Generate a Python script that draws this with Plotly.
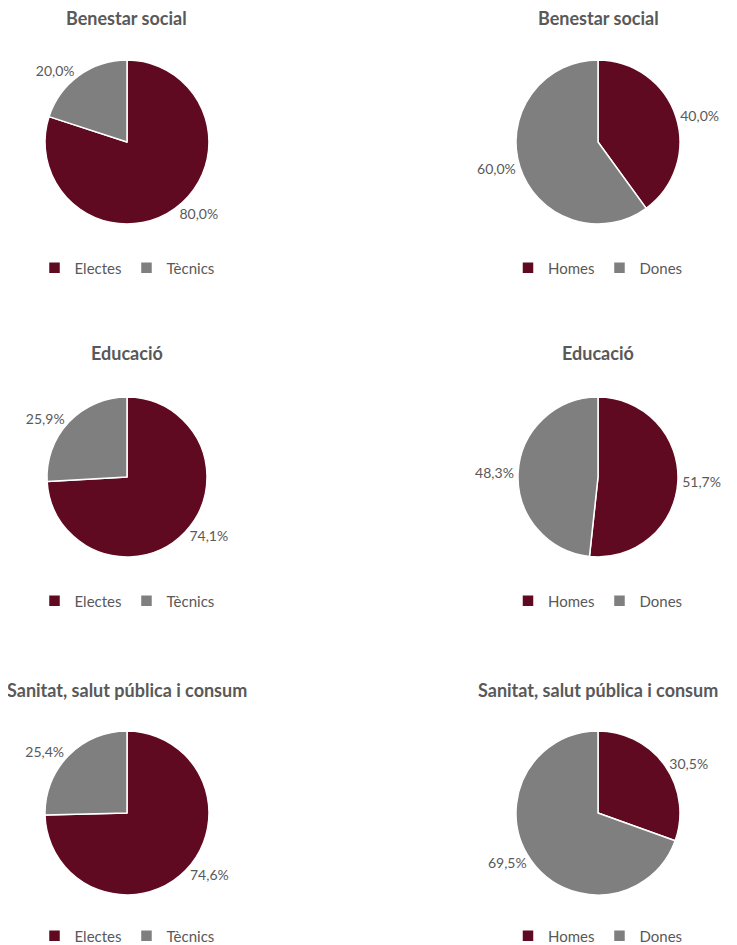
import plotly.graph_objects as go

titles = ["Benestar social", "Educació", "Sanitat, salut pública i consum"]
labels_a = ["Electes", "Tècnics"]
labels_b = ["Homes", "Dones"]
values_a = [[80.0, 20.0], [74.1, 25.9], [74.6, 25.4]]
values_b = [[40.0, 60.0], [51.7, 48.3], [30.5, 69.5]]

colors = ["#600A22", "#7F7F7F"]
text_color = "#595959"
OFF = 8  # default page margin of the html body
W, H = 737 - OFF, 945 - OFF
FONT = "Lato"

# layout (pixels in the 737x945 page): centres of pies
col_x = [127, 598]
row_y = [142, 477, 813]
radii = [82, 80, 82]
title_y = [18, 353, 690]
legend_y = [268, 601, 936]

fig = go.Figure()
k = 0
for r in range(3):
    for c in range(2):
        k += 1
        labels = labels_a if c == 0 else labels_b
        vals = values_a[r] if c == 0 else values_b[r]
        cx, cy = col_x[c] - OFF, row_y[r] - OFF
        rad = radii[r]
        dom_x = [(cx - rad) / W, (cx + rad) / W]
        dom_y = [1 - (cy + rad) / H, 1 - (cy - rad) / H]
        leg = "legend" if k == 1 else f"legend{k}"
        fig.add_trace(go.Pie(
            labels=labels, values=vals, sort=False, direction="clockwise",
            rotation=0, domain=dict(x=dom_x, y=dom_y),
            marker=dict(colors=colors, line=dict(color="white", width=1.5)),
            texttemplate="%{value:.1f}%", textposition="outside",
            textfont=dict(family=FONT, size=14, color=text_color),
            hoverinfo="label+value", legend=leg, legendgroup=f"g{k}",
            showlegend=True,
        ))
        fig.layout[leg] = dict(
            orientation="h", traceorder="normal", x=cx / W, xanchor="center",
            y=1 - (legend_y[r] - OFF) / H, yanchor="middle",
            font=dict(family=FONT, size=15, color=text_color),
            bgcolor="rgba(0,0,0,0)", itemwidth=30,
        )
        fig.add_annotation(
            text=f"<b>{titles[r]}</b>", x=cx / W, y=1 - (title_y[r] - OFF) / H,
            xref="paper", yref="paper", xanchor="center", yanchor="middle",
            showarrow=False, font=dict(family=FONT, size=18, color=text_color),
        )

fig.update_layout(
    width=W, height=H, margin=dict(l=0, r=0, t=0, b=0, autoexpand=False),
    paper_bgcolor="white", plot_bgcolor="white", separators=", ",
)
fig.write_html("out.html")
